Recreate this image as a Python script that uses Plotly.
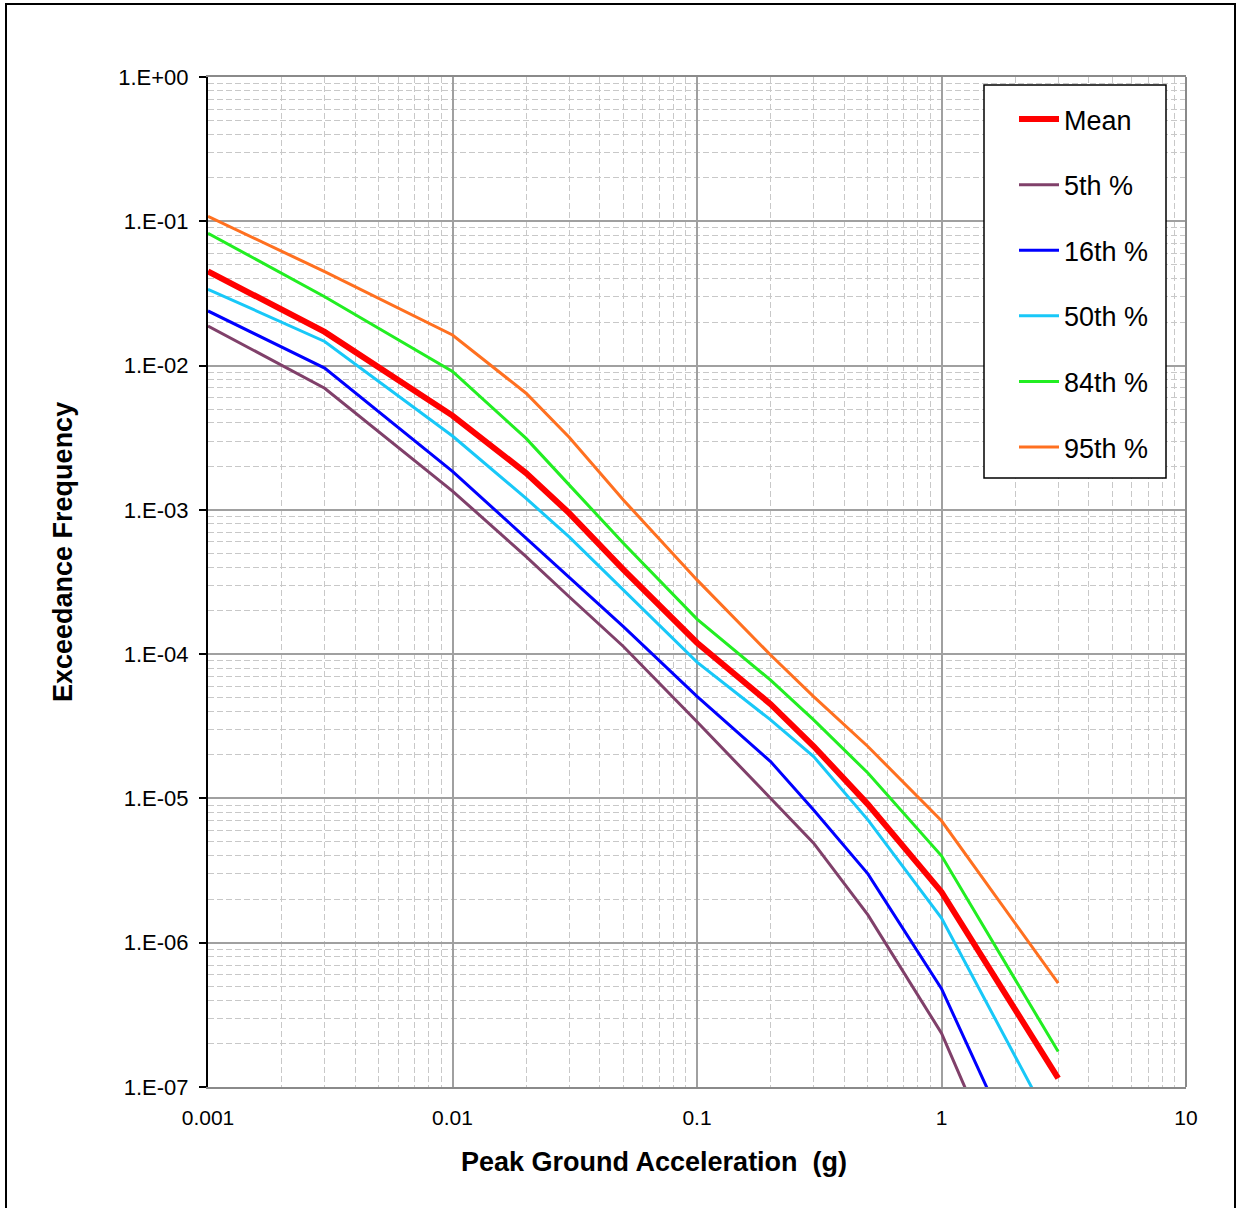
import plotly.graph_objects as go

# ---- data ----
pga = [0.001, 0.003, 0.01, 0.02, 0.03, 0.05, 0.1, 0.2, 0.3, 0.5, 1, 3]

mean_vals = [4.5e-2, 1.71e-2, 4.5e-3, 1.8e-3, 9.5e-4, 3.85e-4, 1.2e-4, 4.5e-5, 2.3e-5, 9.1e-6, 2.25e-6, 1.15e-7]
p05_vals = [1.88e-2, 6.96e-3, 1.35e-3, 4.74e-4, 2.5e-4, 1.13e-4, 3.4e-5, 1.0e-5, 4.9e-6, 1.56e-6, 2.36e-7, 3.2e-9]
p16_vals = [2.39e-2, 9.6e-3, 1.85e-3, 6.35e-4, 3.44e-4, 1.55e-4, 5.1e-5, 1.8e-5, 8.3e-6, 3.0e-6, 4.8e-7, 8.3e-9]
p50_vals = [3.38e-2, 1.47e-2, 3.25e-3, 1.2e-3, 6.5e-4, 2.79e-4, 8.8e-5, 3.5e-5, 1.95e-5, 7.1e-6, 1.48e-6, 4.5e-8]
p84_vals = [8.26e-2, 3.0e-2, 9.1e-3, 3.13e-3, 1.49e-3, 5.87e-4, 1.75e-4, 6.6e-5, 3.5e-5, 1.5e-5, 4.0e-6, 1.76e-7]
p95_vals = [1.08e-1, 4.48e-2, 1.63e-2, 6.43e-3, 3.19e-3, 1.17e-3, 3.27e-4, 9.86e-5, 5.08e-5, 2.29e-5, 7.0e-6, 5.24e-7]

series_names = ["Mean", "5th %", "16th %", "50th %", "84th %", "95th %"]
series_vals = [mean_vals, p05_vals, p16_vals, p50_vals, p84_vals, p95_vals]
series_colors = ["#FF0000", "#80406A", "#0000FF", "#18C8F8", "#22EE22", "#FF7020"]
series_widths = [6, 3, 3, 3, 3, 3]

y_tickvals = [1e0, 1e-1, 1e-2, 1e-3, 1e-4, 1e-5, 1e-6, 1e-7]
y_ticktext = ["1.E+00", "1.E-01", "1.E-02", "1.E-03", "1.E-04", "1.E-05", "1.E-06", "1.E-07"]
x_tickvals = [0.001, 0.01, 0.1, 1, 10]
x_ticktext = ["0.001", "0.01", "0.1", "1", "10"]

x_title = "Peak Ground Acceleration  (g)"
y_title = "Exceedance Frequency"

fig = go.Figure()
# draw percentiles first, mean on top
order = [5, 4, 3, 2, 1, 0]
for i in order:
    fig.add_trace(go.Scatter(
        x=pga, y=series_vals[i], mode="lines", name=series_names[i],
        line=dict(color=series_colors[i], width=series_widths[i]),
        legendgroup=series_names[i], legendrank=i + 1,
    ))

FONT = "Arial, Liberation Sans, sans-serif"
grid_major = "#a0a0a0"
grid_minor = "#c8c8c8"

fig.update_layout(
    width=1237, height=1208,
    margin=dict(l=208, r=51, t=77, b=121),
    paper_bgcolor="white", plot_bgcolor="white",
    font=dict(family=FONT, color="black", size=20),
    showlegend=True,
    legend=dict(
        x=(1014 - 208) / 978, xanchor="left",
        y=(1087 - 95) / 1010, yanchor="top",
        bgcolor="rgba(0,0,0,0)", borderwidth=0,
        font=dict(family=FONT, size=27, color="black"),
        itemwidth=40, tracegroupgap=27.5, traceorder="grouped",
    ),
    xaxis=dict(
        type="log", range=[-3, 1],
        tickvals=x_tickvals, ticktext=x_ticktext,
        showgrid=True, gridcolor=grid_major, gridwidth=1.5,
        minor=dict(dtick="D1", showgrid=True, gridcolor=grid_minor, gridwidth=1, griddash="6px,3px"),
        showline=True, linecolor="#8a8a8a", linewidth=2, mirror=True,
        ticks="", ticklabelstandoff=11,
        tickfont=dict(size=21),
        zeroline=False,
    ),
    yaxis=dict(
        type="log", range=[-7, 0],
        tickvals=y_tickvals, ticktext=y_ticktext,
        showgrid=True, gridcolor=grid_major, gridwidth=1.5,
        minor=dict(dtick="D1", showgrid=True, gridcolor=grid_minor, gridwidth=1, griddash="6px,3px"),
        showline=True, linecolor="black", linewidth=2, mirror=False,
        ticks="outside", ticklen=7, tickcolor="black", tickwidth=1.5,
        ticklabelstandoff=6,
        tickfont=dict(size=22),
        zeroline=False,
    ),
    annotations=[
        dict(text="<b>" + x_title + "</b>", xref="paper", yref="paper",
             x=(654 - 208) / 978, y=(1087 - 1162) / 1010,
             xanchor="center", yanchor="middle", showarrow=False,
             font=dict(family=FONT, size=27, color="black")),
        dict(text="<b>" + y_title + "</b>", xref="paper", yref="paper",
             x=(63 - 208) / 978, y=(1087 - 552) / 1010, textangle=-90,
             xanchor="center", yanchor="middle", showarrow=False,
             font=dict(family=FONT, size=27, color="black")),
    ],
    shapes=[
        # right border of plot area
        dict(type="line", xref="paper", yref="paper", x0=1, x1=1, y0=0, y1=1,
             line=dict(color="#8a8a8a", width=2), layer="above"),
        # legend box
        dict(type="rect", xref="paper", yref="paper",
             x0=(984 - 208) / 978, x1=(1166 - 208) / 978,
             y0=(1087 - 478) / 1010, y1=(1087 - 85) / 1010,
             fillcolor="white", line=dict(color="black", width=1.5), layer="above"),
        # outer chart border
        dict(type="rect", xref="paper", yref="paper",
             x0=(6 - 208) / 978, x1=(1235 - 208) / 978,
             y0=(1087 - 1215) / 1010, y1=(1087 - 4) / 1010,
             line=dict(color="black", width=2), layer="above"),
    ],
)

fig.write_html("out.html", config={"displayModeBar": False},
               post_script="document.body.style.margin='0px';")
